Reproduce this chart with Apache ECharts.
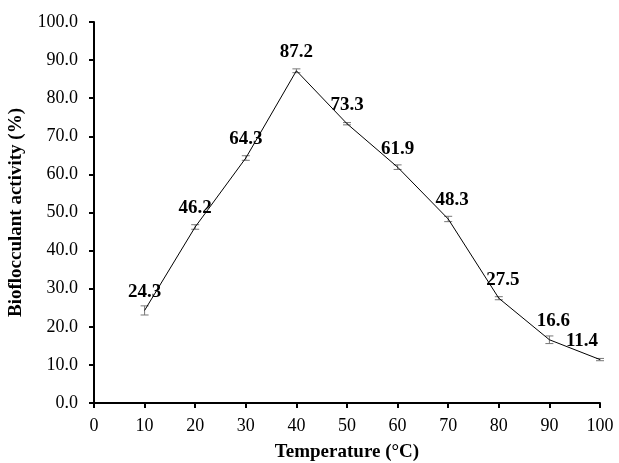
<!DOCTYPE html>
<html>
<head>
<meta charset="utf-8">
<script src="https://cdn.jsdelivr.net/npm/echarts@6/dist/echarts.min.js"></script>
<style>
  html, body { margin: 0; padding: 0; background: #fff; }
  #chart { width: 619px; height: 463px; }
</style>
</head>
<body>
<div id="chart"></div>
<script>
const temperatures = [10, 20, 30, 40, 50, 60, 70, 80, 90, 100];
const activity = [24.3, 46.2, 64.3, 87.2, 73.3, 61.9, 48.3, 27.5, 16.6, 11.4];
const errors = [1.2, 0.6, 0.6, 0.5, 0.3, 0.6, 0.7, 0.4, 1.0, 0.3];

const font = '"Liberation Serif", "Times New Roman", serif';
const chart = echarts.init(document.getElementById('chart'));

const lineData = temperatures.map((t, i) => {
  const item = { value: [t, activity[i]] };
  if (i === temperatures.length - 1) item.label = { offset: [-18, 0] };
  else if (i >= 6) item.label = { offset: [4, 0] };
  return item;
});
const errData = temperatures.map((t, i) => [t, activity[i] - errors[i], activity[i] + errors[i]]);

const option = {
  animation: false,
  grid: { left: 94, right: 19, top: 22, bottom: 60, containLabel: false, outerBoundsMode: 'none' },
  xAxis: {
    type: 'value', min: 0, max: 100, interval: 10,
    name: 'Temperature (°C)', nameLocation: 'middle', nameGap: 40,
    nameTextStyle: { fontFamily: font, fontSize: 19, fontWeight: 'bold', color: '#000' },
    axisLine: { lineStyle: { color: '#000', width: 2 } },
    axisTick: { length: 5, lineStyle: { color: '#000', width: 2 } },
    axisLabel: { fontFamily: font, fontSize: 18, color: '#000', margin: 14 },
    splitLine: { show: false }
  },
  yAxis: {
    type: 'value', min: 0, max: 100, interval: 10,
    name: 'Bioflocculant activity (%)', nameLocation: 'middle', nameGap: 68,
    nameTextStyle: { fontFamily: font, fontSize: 19, fontWeight: 'bold', color: '#000' },
    axisLine: { show: true, lineStyle: { color: '#000', width: 2 } },
    axisTick: { show: true, length: 5, lineStyle: { color: '#000', width: 2 } },
    axisLabel: { fontFamily: font, fontSize: 18, color: '#000', margin: 16,
      formatter: v => v.toFixed(1) },
    splitLine: { show: false }
  },
  series: [
    {
      type: 'line',
      data: lineData,
      symbol: 'circle',
      symbolSize: 0,
      showSymbol: true,
      itemStyle: { color: '#000' },
      lineStyle: { color: '#000', width: 1 },
      label: {
        show: true, position: 'top', distance: 9,
        fontFamily: font, fontSize: 19, fontWeight: 'bold', color: '#000',
        formatter: p => p.value[1].toFixed(1)
      },
      z: 3
    },
    {
      type: 'custom',
      data: errData,
      renderItem: (params, api) => {
        const x = api.value(0);
        const lo = api.coord([x, api.value(1)]);
        const hi = api.coord([x, api.value(2)]);
        const w = 4;
        const style = { stroke: '#777', lineWidth: 1 };
        return {
          type: 'group',
          children: [
            { type: 'line', shape: { x1: lo[0], y1: lo[1], x2: hi[0], y2: hi[1] }, style },
            { type: 'line', shape: { x1: lo[0] - w, y1: lo[1], x2: lo[0] + w, y2: lo[1] }, style },
            { type: 'line', shape: { x1: hi[0] - w, y1: hi[1], x2: hi[0] + w, y2: hi[1] }, style }
          ]
        };
      },
      z: 2
    }
  ]
};
chart.setOption(option);
</script>
</body>
</html>
